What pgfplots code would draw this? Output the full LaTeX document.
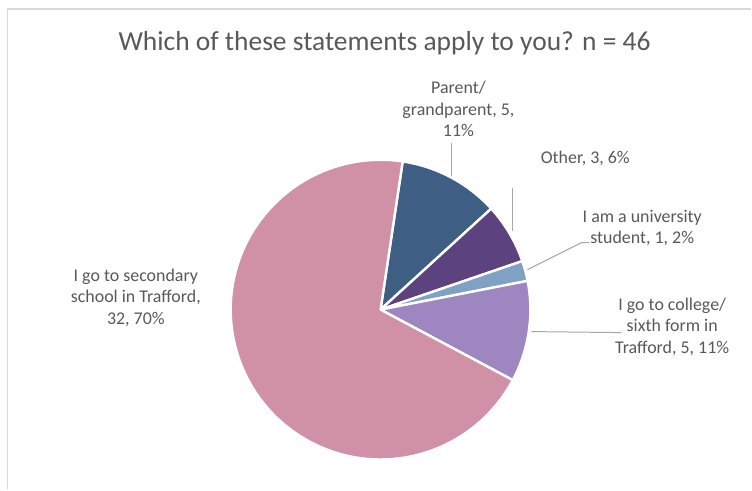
\documentclass[border=0pt]{standalone}
\usepackage{pgfplots}
\pgfplotsset{compat=1.18}
\usepackage{pgfplotstable}
\usepackage{fontspec}
\setmainfont{Carlito}
\definecolor{cParent}{HTML}{3E5F83}
\definecolor{cOther}{HTML}{5C4380}
\definecolor{cUni}{HTML}{7EA1C4}
\definecolor{cCollege}{HTML}{9E86C1}
\definecolor{cSecondary}{HTML}{D091A6}
\definecolor{txt}{HTML}{595959}
\definecolor{frame}{HTML}{D9D9D9}
\definecolor{lead}{HTML}{A6A6A6}

% slices in clockwise order, starting near 12 o'clock
\pgfplotstableread{
count color
5 cParent
3 cOther
1 cUni
5 cCollege
32 cSecondary
}\piedata

\begin{document}
\begin{tikzpicture}
\begin{axis}[
  scale only axis, width=752bp, height=490bp,
  xmin=0, xmax=752, ymin=0, ymax=490,
  axis lines=none, clip=false,
]
\path[fill=white] (axis cs:0,0) rectangle (axis cs:752,490);
% chart frame (partly visible)
\draw[frame, line width=1.8bp] (axis cs:7.5,0) -- (axis cs:7.5,481) -- (axis cs:752,481);

% pie slices
\gdef\startang{81.5}
\pgfplotsforeachungrouped \i in {0,...,4} {
  \pgfplotstablegetelem{\i}{count}\of\piedata \let\cnt\pgfplotsretval
  \pgfplotstablegetelem{\i}{color}\of\piedata \let\col\pgfplotsretval
  \pgfmathsetmacro\endang{\startang - \cnt/46*360}
  \edef\temp{\noexpand\fill[\col, draw=white, line width=2.4bp, line join=round]
    (axis cs:381,180) -- ++(\startang:150bp)
    arc[start angle=\startang, end angle=\endang, radius=150bp] -- cycle;}
  \temp
  \xdef\startang{\endang}
}

% leader lines
\draw[lead, line width=1bp] (axis cs:452,314) -- (axis cs:452,347);
\draw[lead, line width=1bp] (axis cs:513,259) -- (axis cs:513,302);
\draw[lead, line width=1bp] (axis cs:528,220) -- (axis cs:582,247) -- (axis cs:590,247);
\draw[lead, line width=1bp] (axis cs:532,158) -- (axis cs:622,157);

% title
\node[txt, font=\fontsize{27.6}{33}\selectfont] at (axis cs:385,447) {Which of these statements apply to you? n = 46};

% labels
\tikzset{lbl/.style={txt, align=center, font=\fontsize{18}{21.5}\selectfont, inner sep=0pt}}
\node[lbl] at (axis cs:459,381) {Parent/\\grandparent, 5,\\11\%};
\node[lbl] at (axis cs:586,331) {Other, 3, 6\%};
\node[lbl] at (axis cs:643,262) {I am a university\\student, 1, 2\%};
\node[lbl] at (axis cs:673,163) {I go to college/\\sixth form in\\Trafford, 5, 11\%};
\node[lbl] at (axis cs:136,192) {I go to secondary\\school in Trafford,\\32, 70\%};
\end{axis}
\end{tikzpicture}
\end{document}
